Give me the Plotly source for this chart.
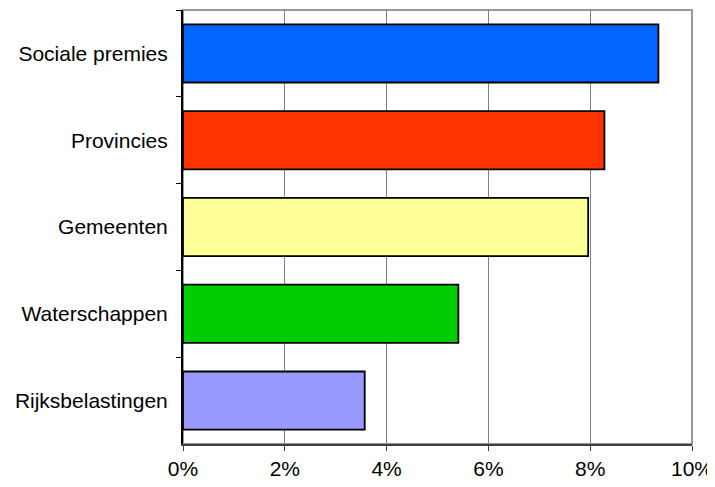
import plotly.graph_objects as go

categories = ["Sociale premies", "Provincies", "Gemeenten", "Waterschappen", "Rijksbelastingen"]
values = [0.0934, 0.0828, 0.0796, 0.0541, 0.0357]
colors = ["#0066FF", "#FF3300", "#FFFF99", "#00CC00", "#9999FF"]

fig = go.Figure(go.Bar(
    x=values, y=categories, orientation="h",
    marker=dict(color=colors, line=dict(color="#000000", width=1.8)),
))

# page body has an 8px default margin; compensate so the plot lands where the reference has it
fig.update_layout(
    template="none",
    width=707, height=479,
    margin=dict(l=175, r=23, t=2, b=43, autoexpand=False),
    paper_bgcolor="white", plot_bgcolor="white",
    font=dict(family="Liberation Sans, Arial, sans-serif", size=21, color="black"),
    bargap=0.33,
    showlegend=False,
    shapes=[dict(type="rect", xref="paper", yref="paper", x0=0, x1=1, y0=0, y1=1,
                 line=dict(color="#999999", width=2), layer="below")],
)
fig.update_xaxes(range=[0, 0.1], dtick=0.02, tickformat=".0%", automargin=False,
                 showgrid=True, gridcolor="#808080", gridwidth=1,
                 showline=True, linecolor="#404040", linewidth=2,
                 ticks="outside", ticklen=5, tickcolor="#404040", tickwidth=1,
                 zeroline=False, fixedrange=True)
fig.update_yaxes(autorange="reversed", tickson="boundaries", automargin=False,
                 showline=True, linecolor="#000000", linewidth=2,
                 ticks="outside", ticklen=5, tickcolor="#000000", tickwidth=1,
                 ticklabelstandoff=9,
                 showgrid=False, zeroline=False, fixedrange=True)

fig.write_html("out.html")
